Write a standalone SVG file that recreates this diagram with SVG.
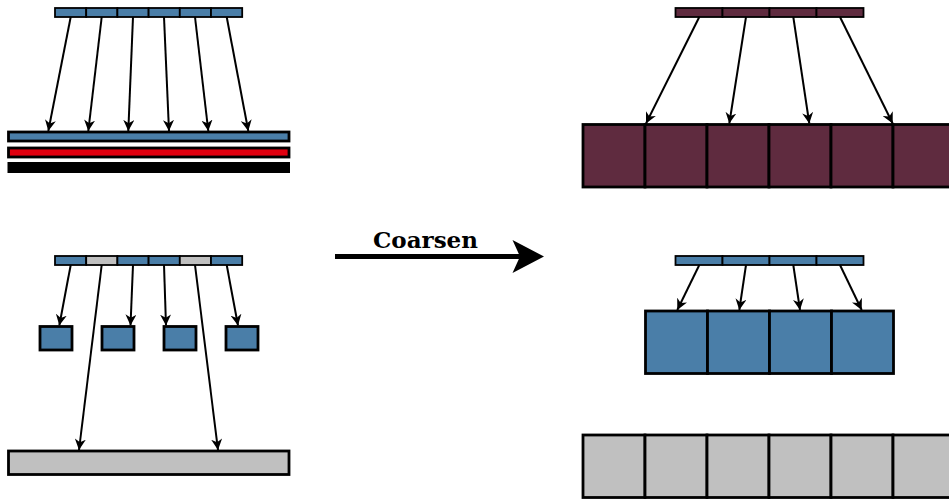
<svg xmlns="http://www.w3.org/2000/svg" width="949" height="500" viewBox="0 0 949 500">
  <style>
    .thin { stroke: #000; stroke-width: 1.8; }
    .cell { stroke: #000; stroke-width: 2.8; }
    .blue { fill: #4a7ea8; }
    .gray { fill: #c0c0c0; }
    .wine { fill: #5f2b3f; }
    .red { fill: #e0000f; }
    .link { fill: none; stroke: #000; stroke-width: 2; }
    .arrow { marker-end: url(#head); }
    .label { font-family: "DejaVu Serif", "Liberation Serif", serif; font-weight: bold; font-size: 23px; fill: #000; }
  </style>
  <defs>
    <marker id="head" viewBox="0 0 10 10" refX="10" refY="5" markerWidth="11" markerHeight="11" markerUnits="userSpaceOnUse" orient="auto">
      <path d="M0,0 L10,5 L0,10 L3,5 z" fill="#000"/>
    </marker>
  </defs>

  <!-- Top left: fine buffer mapped onto stacked layers -->
  <g id="fine-top-left">
    <rect class="thin blue" x="55" y="8" width="31.2" height="9"/>
    <rect class="thin blue" x="86.2" y="8" width="31.2" height="9"/>
    <rect class="thin blue" x="117.4" y="8" width="31.2" height="9"/>
    <rect class="thin blue" x="148.6" y="8" width="31.2" height="9"/>
    <rect class="thin blue" x="179.8" y="8" width="31.2" height="9"/>
    <rect class="thin blue" x="211" y="8" width="31.2" height="9"/>
  </g>
  <g id="layer-blue">
    <rect class="cell blue" x="8.5" y="132" width="280.5" height="9"/>
  </g>
  <g id="layer-red">
    <rect class="cell red" x="8.5" y="148" width="280.5" height="9"/>
  </g>
  <g id="layer-black">
    <rect x="7.5" y="162" width="282.5" height="11" fill="#000"/>
  </g>

  <!-- Bottom left: mixed buffer -->
  <g id="fine-bottom-left">
    <rect class="thin blue" x="55" y="256" width="31.2" height="9"/>
    <rect class="thin gray" x="86.2" y="256" width="31.2" height="9"/>
    <rect class="thin blue" x="117.4" y="256" width="31.2" height="9"/>
    <rect class="thin blue" x="148.6" y="256" width="31.2" height="9"/>
    <rect class="thin gray" x="179.8" y="256" width="31.2" height="9"/>
    <rect class="thin blue" x="211" y="256" width="31.2" height="9"/>
  </g>
  <g id="box-1"><rect class="cell blue" x="40" y="326.5" width="32" height="23.5"/></g>
  <g id="box-2"><rect class="cell blue" x="102" y="326.5" width="32" height="23.5"/></g>
  <g id="box-3"><rect class="cell blue" x="164" y="326.5" width="32" height="23.5"/></g>
  <g id="box-4"><rect class="cell blue" x="226" y="326.5" width="32" height="23.5"/></g>
  <g id="gray-bar">
    <rect class="cell gray" x="8.5" y="451" width="280.5" height="23.5"/>
  </g>

  <!-- Top right: coarse buffer over wide cells -->
  <g id="coarse-top-right">
    <rect class="thin wine" x="675.5" y="8" width="47" height="9"/>
    <rect class="thin wine" x="722.5" y="8" width="47" height="9"/>
    <rect class="thin wine" x="769.5" y="8" width="47" height="9"/>
    <rect class="thin wine" x="816.5" y="8" width="47" height="9"/>
  </g>
  <g id="wine-cells">
    <rect class="cell wine" x="583" y="124.5" width="62" height="62.5"/>
    <rect class="cell wine" x="645" y="124.5" width="62" height="62.5"/>
    <rect class="cell wine" x="707" y="124.5" width="62" height="62.5"/>
    <rect class="cell wine" x="769" y="124.5" width="62" height="62.5"/>
    <rect class="cell wine" x="831" y="124.5" width="62" height="62.5"/>
    <rect class="cell wine" x="893" y="124.5" width="62" height="62.5"/>
  </g>

  <!-- Middle right -->
  <g id="coarse-mid-right">
    <rect class="thin blue" x="675.5" y="256" width="47" height="9"/>
    <rect class="thin blue" x="722.5" y="256" width="47" height="9"/>
    <rect class="thin blue" x="769.5" y="256" width="47" height="9"/>
    <rect class="thin blue" x="816.5" y="256" width="47" height="9"/>
  </g>
  <g id="blue-cells">
    <rect class="cell blue" x="645.5" y="311" width="62" height="62.5"/>
    <rect class="cell blue" x="707.5" y="311" width="62" height="62.5"/>
    <rect class="cell blue" x="769.5" y="311" width="62" height="62.5"/>
    <rect class="cell blue" x="831.5" y="311" width="62" height="62.5"/>
  </g>

  <!-- Bottom right -->
  <g id="gray-cells">
    <rect class="cell gray" x="583" y="435" width="62" height="62.5"/>
    <rect class="cell gray" x="645" y="435" width="62" height="62.5"/>
    <rect class="cell gray" x="707" y="435" width="62" height="62.5"/>
    <rect class="cell gray" x="769" y="435" width="62" height="62.5"/>
    <rect class="cell gray" x="831" y="435" width="62" height="62.5"/>
    <rect class="cell gray" x="893" y="435" width="62" height="62.5"/>
  </g>

  <!-- Connectors -->
  <g id="connectors">
    <line class="link arrow" x1="70.7" y1="17" x2="48.3" y2="131"/>
    <line class="link arrow" x1="101.7" y1="17" x2="88.3" y2="131"/>
    <line class="link arrow" x1="133" y1="17" x2="128.3" y2="131"/>
    <line class="link arrow" x1="164" y1="17" x2="169" y2="131"/>
    <line class="link arrow" x1="195" y1="17" x2="208.3" y2="131"/>
    <line class="link arrow" x1="226.7" y1="17" x2="248.3" y2="131"/>

    <line class="link arrow" x1="70.7" y1="265" x2="59.3" y2="325.5"/>
    <line class="link arrow" x1="133" y1="265" x2="130.5" y2="325.5"/>
    <line class="link arrow" x1="164" y1="265" x2="166" y2="325.5"/>
    <line class="link arrow" x1="226.7" y1="265" x2="238" y2="325.5"/>
    <line class="link arrow" x1="101.7" y1="265" x2="79" y2="450"/>
    <line class="link arrow" x1="195" y1="265" x2="218" y2="450"/>

    <line class="link arrow" x1="699.3" y1="17" x2="646" y2="123.5"/>
    <line class="link arrow" x1="746" y1="17" x2="729.3" y2="123.5"/>
    <line class="link arrow" x1="793.3" y1="17" x2="809.3" y2="123.5"/>
    <line class="link arrow" x1="840" y1="17" x2="892.7" y2="123.5"/>

    <line class="link arrow" x1="699.3" y1="265" x2="677.3" y2="310"/>
    <line class="link arrow" x1="746" y1="265" x2="739.3" y2="310"/>
    <line class="link arrow" x1="793.3" y1="265" x2="800" y2="310"/>
    <line class="link arrow" x1="840" y1="265" x2="861.7" y2="310"/>

    <line x1="335" y1="256.5" x2="522" y2="256.5" stroke="#000" stroke-width="5"/>
    <path d="M544,256.5 L512.5,240 L520,256.5 L512.5,273 z" fill="#000"/>
  </g>

  <text class="label" x="373" y="248">Coarsen</text>
</svg>
